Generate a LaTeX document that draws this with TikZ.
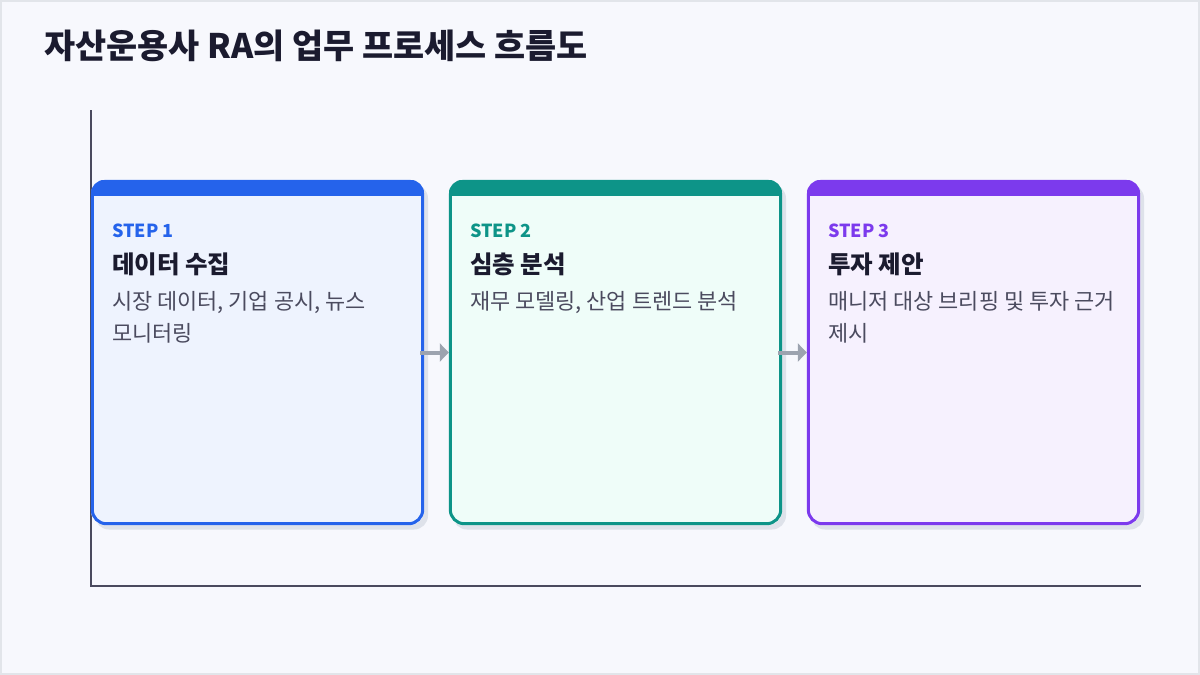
\documentclass[tikz,border=0pt]{standalone}
\usepackage{fontspec}
\setmainfont{Noto Sans CJK KR}
\usetikzlibrary{arrows.meta}
\definecolor{bgc}{HTML}{F7F8FD}
\definecolor{framec}{HTML}{E2E5EA}
\definecolor{titlec}{HTML}{1B1B2F}
\definecolor{axisc}{HTML}{4A4A5E}
\definecolor{descc}{HTML}{4B4B5F}
\definecolor{arrc}{HTML}{9CA3AF}
\definecolor{shadc}{HTML}{DEE2EA}
\definecolor{cA}{HTML}{2563EB}
\definecolor{fA}{HTML}{EEF3FE}
\definecolor{cB}{HTML}{0D9488}
\definecolor{fB}{HTML}{EFFDF9}
\definecolor{cC}{HTML}{7C3AED}
\definecolor{fC}{HTML}{F6F1FE}
\tikzset{
  boxshape/.style={rectangle, rounded corners=14pt, minimum width=333pt, minimum height=345pt, inner sep=0pt},
  steplabel/.style={anchor=base west, inner sep=0pt, font=\fontsize{18}{21}\selectfont\bfseries},
  boxtitle/.style={anchor=base west, inner sep=0pt, font=\fontsize{24.5}{28}\selectfont\bfseries, text=titlec},
  boxdesc/.style={anchor=base west, inner sep=0pt, font=\fontsize{21.9}{31.5}\selectfont, text=descc, align=left},
  arr/.style={draw=arrc, line width=4pt, -{Triangle[length=9pt, width=18pt]}},
}
\newcommand{\stepcard}[6]{%
  % #1 name, #2 center x, #3 line color, #4 fill color, #5 step, #6 title
  \node[boxshape, fill=shadc] at (#2+4, -357) {};
  \node[boxshape, fill=#4] (#1) at (#2, -352.5) {};
  \begin{scope}
    \clip[rounded corners=14pt] (#1.south west) rectangle (#1.north east);
    \fill[#3] (#1.north west) rectangle ([yshift=-16pt]#1.north east);
  \end{scope}
  \draw[#3, line width=3pt, rounded corners=14pt] ([shift={(1.5pt,1.5pt)}]#1.south west) rectangle ([shift={(-1.5pt,-1.5pt)}]#1.north east);
  \node[steplabel, text=#3] at (#2-145.5, -237) {#5};
  \node[boxtitle] at (#2-145.5, -273) {#6};
}
\begin{document}
\begin{tikzpicture}[x=1pt, y=1pt]
  \useasboundingbox (0,0) rectangle (1200,-675);
  \fill[bgc] (0,0) rectangle (1200,-675);
  \draw[framec, line width=2pt] (1,-1) rectangle (1199,-674);
  \node[anchor=base west, inner sep=0pt, font=\fontsize{33.8}{38}\selectfont\bfseries, text=titlec] (title) at (44,-58) {자산운용사 RA의 업무 프로세스 흐름도};
  % axes
  \coordinate (ytop) at (91,-110);
  \coordinate (orig) at (91,-586);
  \coordinate (xend) at (1141,-586);
  \draw[axisc, line width=2pt] (ytop) -- (orig) -- (xend);
  \stepcard{b1}{257.5}{cA}{fA}{STEP 1}{데이터 수집}
  \stepcard{b2}{615.5}{cB}{fB}{STEP 2}{심층 분석}
  \stepcard{b3}{973.5}{cC}{fC}{STEP 3}{투자 제안}
  \node[boxdesc] (d1) at (112,-341) {시장 데이터, 기업 공시, 뉴스\\모니터링};
  \node[boxdesc] (d2) at (470,-309.5) {재무 모델링, 산업 트렌드 분석};
  \node[boxdesc] (d3) at (828,-341) {매니저 대상 브리핑 및 투자 근거\\제시};
  \draw[arr] ([xshift=-4pt]b1.east) -- (b2.west);
  \draw[arr] ([xshift=-4pt]b2.east) -- (b3.west);
\end{tikzpicture}
\end{document}
